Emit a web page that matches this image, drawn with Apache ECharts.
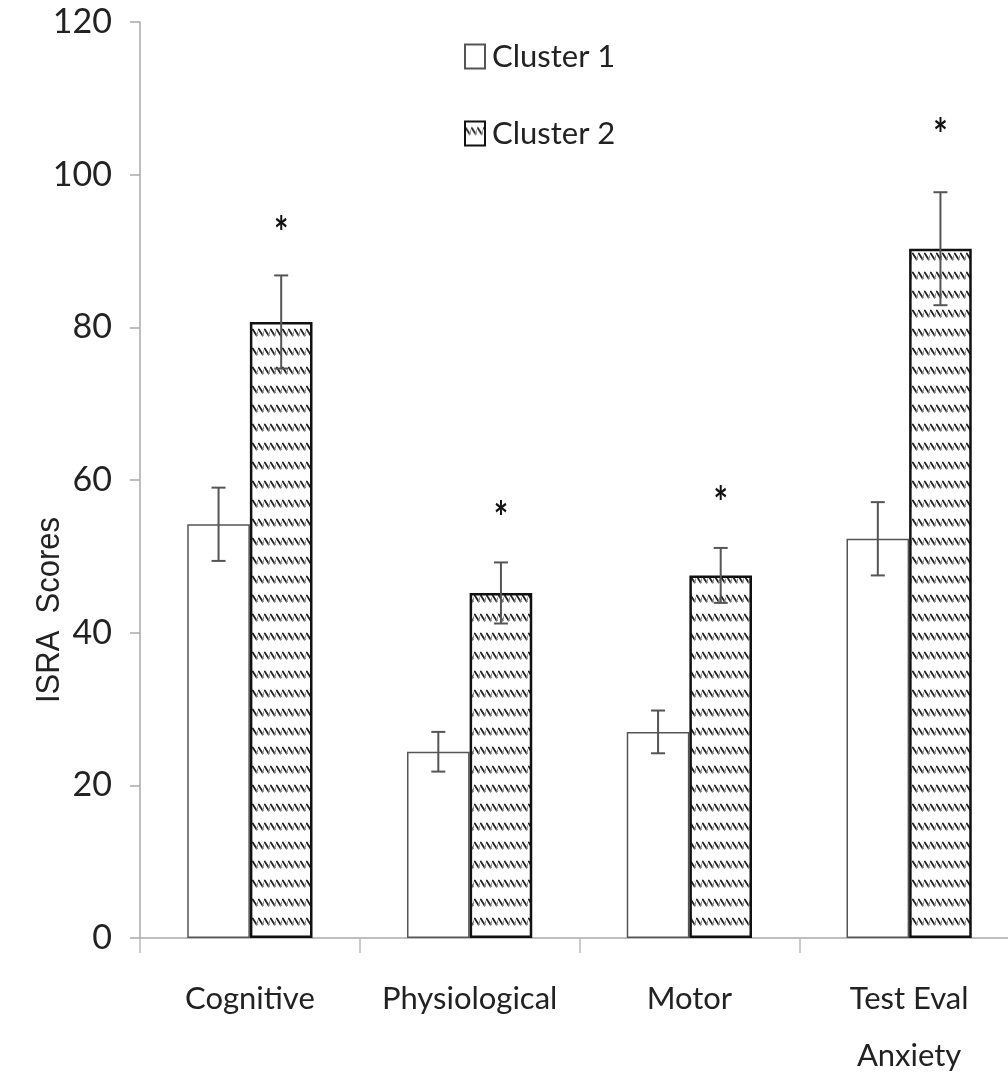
<!DOCTYPE html>
<html><head><meta charset="utf-8">
<script src="https://cdn.jsdelivr.net/npm/echarts@6/dist/echarts.min.js"></script>
<style>html,body{margin:0;padding:0;background:#fff}#c{width:1008px;height:1075px}</style>
</head><body><div id="c"></div>
<script>
const categories = ['Cognitive', 'Physiological', 'Motor', 'Test Eval\nAnxiety'];
const cluster1 = [54.2, 24.4, 27.0, 52.3];
const cluster1Err = [4.8, 2.6, 2.8, 4.8];
const cluster2 = [80.7, 45.2, 47.5, 90.3];
const cluster2Err = [6.1, 4.0, 3.6, 7.4];
const sigMarkY = [92.8, 55.4, 57.4, 105.6];
const yTicks = [0, 20, 40, 60, 80, 100, 120];

// zigzag pattern tile
const tile = document.createElement('canvas');
tile.width = 6; tile.height = 19;
const g = tile.getContext('2d');
g.fillStyle = '#fff'; g.fillRect(0, 0, 6, 19);
g.lineCap = 'round';
g.strokeStyle = '#222'; g.lineWidth = 1.8;
g.beginPath(); g.moveTo(0.8, 6.5); g.lineTo(4.6, 12.5); g.stroke();
g.strokeStyle = '#888'; g.lineWidth = 1.1;
g.beginPath(); g.moveTo(4.6, 12.5); g.lineTo(6.6, 7); g.stroke();

const chart = echarts.init(document.getElementById('c'));
const CAT_GAP = 0.43;

function errRender(sign, hasSig) {
  return function (params, api) {
    const idx = api.value(0), mean = api.value(1), err = api.value(2);
    const base = api.coord([idx, mean]);
    const band = api.size([1, 0])[0];
    const bw = band * (1 - CAT_GAP) / 2;
    const cx = base[0] + sign * bw / 2;
    const top = api.coord([idx, mean + err])[1];
    const bot = api.coord([idx, mean - err])[1];
    const st = { stroke: '#555', lineWidth: 2 };
    const children = [
      { type: 'line', shape: { x1: cx, y1: top, x2: cx, y2: bot }, style: st },
      { type: 'line', shape: { x1: cx - 7, y1: top, x2: cx + 7, y2: top }, style: st },
      { type: 'line', shape: { x1: cx - 7, y1: bot, x2: cx + 7, y2: bot }, style: st }
    ];
    if (hasSig) {
      const sy = api.coord([idx, api.value(3)])[1];
      children.push({ type: 'text', x: cx, y: sy + 4, scaleY: 1.3, style: { text: '*', fill: '#111', font: 'bold 34px Lato', align: 'center', verticalAlign: 'middle' } });
    }
    return { type: 'group', children };
  };
}

chart.setOption({
  animation: false,
  backgroundColor: '#fff',
  grid: { left: 140, top: 22, bottom: 137, right: -11, containLabel: false, outerBoundsMode: 'none' },
  legend: {
    data: ['Cluster 1', 'Cluster 2'],
    orient: 'vertical', left: 464, top: 41, padding: 0,
    itemWidth: 20, itemHeight: 24, itemGap: 46,
    icon: 'rect',
    textStyle: { fontFamily: 'Lato', fontSize: 31, color: '#222', padding: [0, 0, 0, 2] }
  },
  graphic: [{
    type: 'text', x: 50, y: 610, rotation: Math.PI / 2, scaleY: 1.1,
    style: { text: 'ISRA  Scores', font: '31px "Liberation Sans"', fill: '#222', align: 'center', verticalAlign: 'middle' }
  }],
  xAxis: {
    type: 'category', data: categories, boundaryGap: true,
    axisLine: { lineStyle: { color: '#aaa', width: 1.5 } },
    axisTick: { show: true, interval: 0, length: 15, lineStyle: { color: '#bbb', width: 1.5 } },
    axisLabel: { interval: 0, margin: 32, fontFamily: 'Lato', fontSize: 31, color: '#222', lineHeight: 57 }
  },
  yAxis: {
    type: 'value', min: yTicks[0], max: yTicks[yTicks.length - 1], interval: 20,
    axisLine: { show: true, lineStyle: { color: '#aaa', width: 1.5 } },
    axisTick: { show: true, length: 10, lineStyle: { color: '#aaa', width: 1.5 } },
    splitLine: { show: false },
    axisLabel: { margin: 28, fontFamily: 'Lato', fontSize: 34, color: '#222' }
  },
  series: [
    { name: 'Cluster 1', type: 'bar', data: cluster1, barGap: '0%', barCategoryGap: (CAT_GAP * 100) + '%',
      itemStyle: { color: '#fff', borderColor: '#555', borderWidth: 1.5 } },
    { name: 'Cluster 2', type: 'bar', data: cluster2, barGap: '0%', barCategoryGap: (CAT_GAP * 100) + '%',
      itemStyle: { color: { image: tile, repeat: 'repeat' }, borderColor: '#111', borderWidth: 2.5 } },
    { name: 'err1', type: 'custom', z: 5, renderItem: errRender(-1, false),
      data: cluster1.map((v, i) => [i, v, cluster1Err[i]]) },
    { name: 'err2', type: 'custom', z: 5, renderItem: errRender(1, true),
      data: cluster2.map((v, i) => [i, v, cluster2Err[i], sigMarkY[i]]) }
  ]
});
</script></body></html>
